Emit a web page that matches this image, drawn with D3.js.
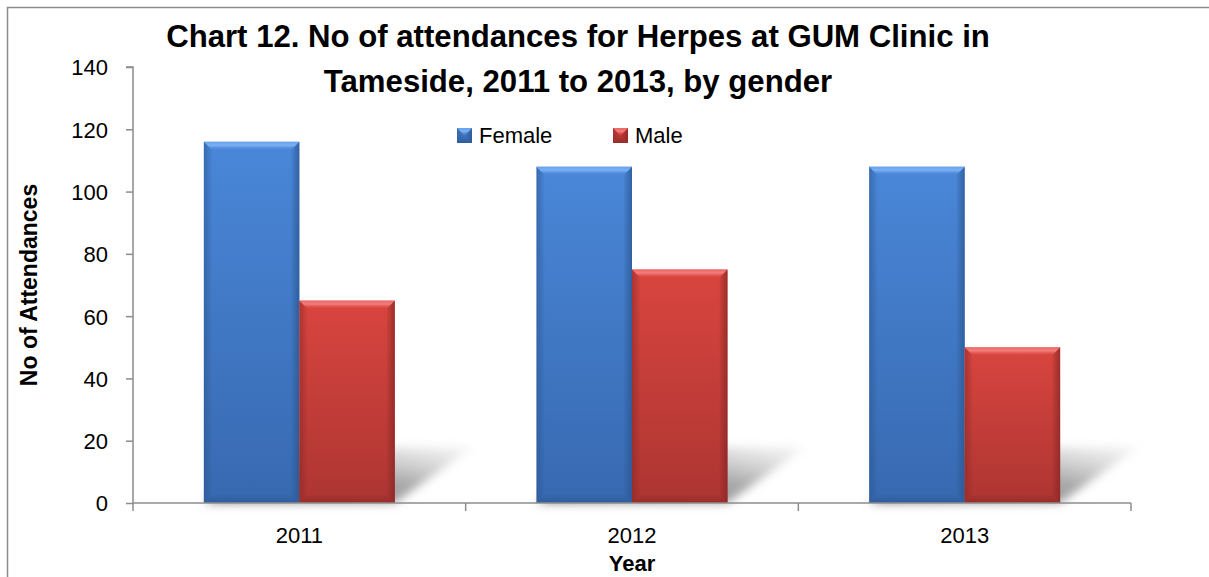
<!DOCTYPE html>
<html>
<head>
<meta charset="utf-8">
<script src="https://cdn.jsdelivr.net/npm/d3@7"></script>
<style>
  html, body { margin: 0; padding: 0; background: #fff; }
  svg { display: block; }
  text { font-family: "Liberation Sans", Arial, sans-serif; fill: #000; }
</style>
</head>
<body>
<svg id="chart" width="1209" height="577"></svg>
<script>
const years = ["2011", "2012", "2013"];
const seriesNames = ["Female", "Male"];
const femaleValues = [116, 108, 108];
const maleValues = [65, 75, 50];
const yTicks = [0, 20, 40, 60, 80, 100, 120, 140];
const titleLines = ["Chart 12. No of attendances for Herpes at GUM Clinic in", "Tameside, 2011 to 2013, by gender"];
const yTitle = "No of Attendances";
const xTitle = "Year";

const seriesValues = { Female: femaleValues, Male: maleValues };
const palette = {
  Female: { top: "#4a87d8", bottom: "#3769b0", light: "#7db3f5", dark: "#2a5590" },
  Male:   { top: "#d9453f", bottom: "#ad3532", light: "#f58080", dark: "#872624" }
};

const svg = d3.select("#chart");
const defs = svg.append("defs");

const plot = { left: 133, right: 1131, top: 67, bottom: 503 };

const x = d3.scaleBand().domain(years).range([plot.left, plot.right])
  .paddingInner(0.426).paddingOuter(0.213);
const x1 = d3.scaleBand().domain(seriesNames).range([0, x.bandwidth()]);
const y = d3.scaleLinear().domain([0, 140]).range([plot.bottom, plot.top]);

// gradients
seriesNames.forEach(s => {
  const c = palette[s];
  const g = defs.append("linearGradient").attr("id", "body-" + s).attr("x1", 0).attr("y1", 0).attr("x2", 0).attr("y2", 1);
  g.append("stop").attr("offset", "0%").attr("stop-color", c.top);
  g.append("stop").attr("offset", "100%").attr("stop-color", c.bottom);
  const t = defs.append("linearGradient").attr("id", "topbev-" + s).attr("x1", 0).attr("y1", 0).attr("x2", 0).attr("y2", 1);
  t.append("stop").attr("offset", "0%").attr("stop-color", c.light).attr("stop-opacity", 0.6);
  t.append("stop").attr("offset", "45%").attr("stop-color", c.light).attr("stop-opacity", 0.95);
  t.append("stop").attr("offset", "100%").attr("stop-color", c.top).attr("stop-opacity", 0.3);
  const l = defs.append("linearGradient").attr("id", "lbev-" + s).attr("x1", 0).attr("y1", 0).attr("x2", 1).attr("y2", 0);
  l.append("stop").attr("offset", "0%").attr("stop-color", c.dark).attr("stop-opacity", 0.55);
  l.append("stop").attr("offset", "100%").attr("stop-color", c.dark).attr("stop-opacity", 0.05);
  const r = defs.append("linearGradient").attr("id", "rbev-" + s).attr("x1", 1).attr("y1", 0).attr("x2", 0).attr("y2", 0);
  r.append("stop").attr("offset", "0%").attr("stop-color", c.dark).attr("stop-opacity", 0.75);
  r.append("stop").attr("offset", "100%").attr("stop-color", c.dark).attr("stop-opacity", 0.1);
  const b = defs.append("linearGradient").attr("id", "bbev-" + s).attr("x1", 0).attr("y1", 1).attr("x2", 0).attr("y2", 0);
  b.append("stop").attr("offset", "0%").attr("stop-color", c.dark).attr("stop-opacity", 0.6);
  b.append("stop").attr("offset", "100%").attr("stop-color", c.dark).attr("stop-opacity", 0.1);
});

const sg = defs.append("linearGradient").attr("id", "shadowGrad").attr("x1", 0).attr("y1", 1).attr("x2", 1).attr("y2", 0);
sg.append("stop").attr("offset", "0%").attr("stop-color", "#7a7a7a").attr("stop-opacity", 0.95);
sg.append("stop").attr("offset", "55%").attr("stop-color", "#959595").attr("stop-opacity", 0.8);
sg.append("stop").attr("offset", "100%").attr("stop-color", "#c8c8c8").attr("stop-opacity", 0.15);
defs.append("filter").attr("id", "blur").attr("x", "-30%").attr("y", "-30%").attr("width", "160%").attr("height", "160%")
  .append("feGaussianBlur").attr("stdDeviation", 5);

// chart frame
svg.append("rect").attr("x", 7.5).attr("y", 7.5).attr("width", 1240).attr("height", 620)
  .attr("fill", "none").attr("stroke", "#8c8c8c").attr("stroke-width", 1.5);

// shadows
const shadowG = svg.append("g");
years.forEach(yr => {
  const gx0 = x(yr), gx1 = x(yr) + x.bandwidth(), y0 = y(0);
  const dy = 56, dx = 78;
  shadowG.append("polygon")
    .attr("points", [[gx0, y0], [gx1, y0], [gx1 + dx, y0 - dy], [gx0 + dx, y0 - dy]].map(p => p.join(",")).join(" "))
    .attr("fill", "url(#shadowGrad)")
    .attr("filter", "url(#blur)");
});

// bars
function drawBar(g, s, bx, by, bw, bh) {
  const bv = Math.min(8, bh / 2);
  g.append("rect").attr("x", bx).attr("y", by).attr("width", bw).attr("height", bh).attr("fill", "url(#body-" + s + ")");
  const P = pts => pts.map(p => p.join(",")).join(" ");
  g.append("polygon").attr("points", P([[bx, by + bh], [bx + bw, by + bh], [bx + bw - bv, by + bh - bv], [bx + bv, by + bh - bv]]))
    .attr("fill", "url(#bbev-" + s + ")");
  g.append("polygon").attr("points", P([[bx, by], [bx + bv, by + bv], [bx + bv, by + bh - bv], [bx, by + bh]]))
    .attr("fill", "url(#lbev-" + s + ")");
  g.append("polygon").attr("points", P([[bx + bw, by], [bx + bw - bv, by + bv], [bx + bw - bv, by + bh - bv], [bx + bw, by + bh]]))
    .attr("fill", "url(#rbev-" + s + ")");
  g.append("polygon").attr("points", P([[bx, by], [bx + bw, by], [bx + bw - bv, by + bv], [bx + bv, by + bv]]))
    .attr("fill", "url(#topbev-" + s + ")");
}

const barsG = svg.append("g");
years.forEach((yr, i) => {
  seriesNames.forEach(s => {
    const v = seriesValues[s][i];
    const bx = x(yr) + x1(s);
    const by = y(v);
    drawBar(barsG, s, bx, by, x1.bandwidth(), y(0) - by);
  });
});

// y axis
const yAxis = d3.axisLeft(y).tickValues(yTicks).tickSize(7).tickPadding(18).tickFormat(d3.format("d"));
const yG = svg.append("g").attr("transform", `translate(${plot.left},0)`).call(yAxis);
yG.select(".domain").attr("stroke", "#8c8c8c").attr("stroke-width", 1.5).attr("d", `M-7,${plot.top}H0V${plot.bottom}`);
yG.selectAll(".tick line").attr("stroke", "#8c8c8c").attr("stroke-width", 1.5);
yG.selectAll(".tick text").attr("font-family", "Liberation Sans, Arial, sans-serif").attr("font-size", 22).attr("fill", "#000").attr("dy", "0.36em");

// x axis
const xG = svg.append("g");
xG.append("line").attr("x1", plot.left).attr("x2", plot.right).attr("y1", y(0)).attr("y2", y(0))
  .attr("stroke", "#8c8c8c").attr("stroke-width", 1.5);
const boundaries = d3.range(years.length + 1).map(i => plot.left + i * x.step());
xG.selectAll("line.bt").data(boundaries).join("line").attr("class", "bt")
  .attr("x1", d => d).attr("x2", d => d).attr("y1", y(0)).attr("y2", y(0) + 8)
  .attr("stroke", "#8c8c8c").attr("stroke-width", 1.5);
xG.selectAll("text.xl").data(years).join("text").attr("class", "xl")
  .attr("x", d => x(d) + x.bandwidth() / 2).attr("y", 543)
  .attr("text-anchor", "middle").attr("font-size", 22).text(d => d);

// axis titles
svg.append("text").attr("transform", `translate(37,${(plot.top + plot.bottom) / 2}) rotate(-90)`)
  .attr("text-anchor", "middle").attr("font-size", 23).attr("font-weight", "bold").text(yTitle);
svg.append("text").attr("x", (plot.left + plot.right) / 2).attr("y", 571)
  .attr("text-anchor", "middle").attr("font-size", 22).attr("font-weight", "bold").text(xTitle);

// title
const titleSize = 28;
const tl = svg.selectAll("text.title").data(titleLines).join("text").attr("class", "title")
  .attr("x", 578).attr("y", (d, i) => 47 + i * 45)
  .attr("text-anchor", "middle").attr("font-size", titleSize).attr("font-weight", "bold").text(d => d);
const w1 = tl.nodes()[0].getComputedTextLength();
tl.attr("font-size", titleSize * 824 / w1);

// legend
const legendPos = { Female: 457, Male: 613 };
const legG = svg.append("g");
seriesNames.forEach(s => {
  const lx = legendPos[s];
  drawBar(legG, s, lx, 128, 15, 15);
  legG.append("text").attr("x", lx + 22).attr("y", 143).attr("font-size", 22).text(s);
});
</script>
</body>
</html>
